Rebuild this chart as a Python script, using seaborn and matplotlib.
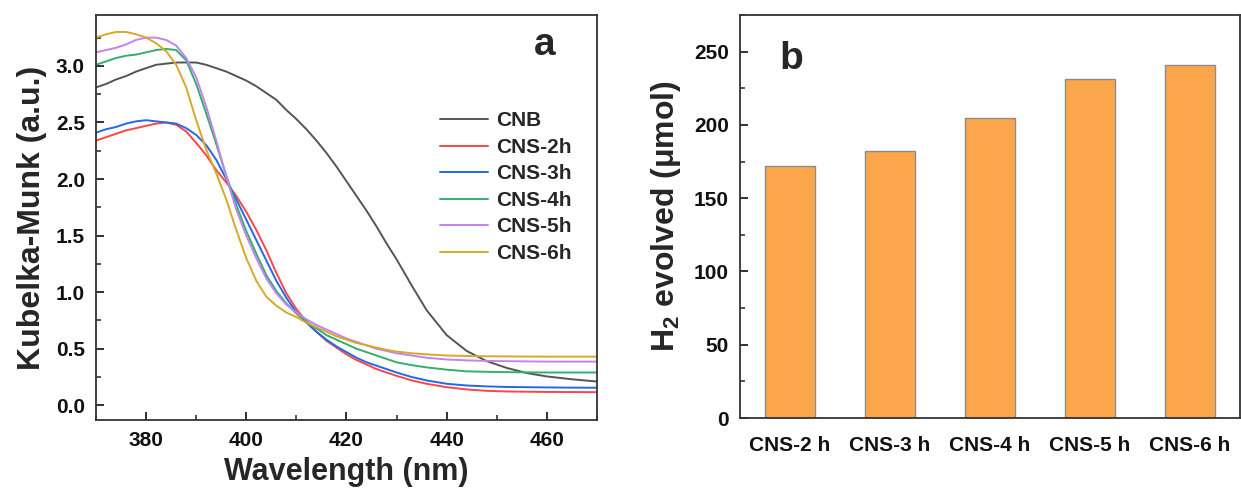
import numpy as np
import pandas as pd
import matplotlib
matplotlib.use("Agg")
import matplotlib.pyplot as plt
import seaborn as sns
from matplotlib.ticker import MultipleLocator, FormatStrFormatter

# ---------------- data: panel a (Kubelka-Munk spectra) ----------------
wavelength = [370, 372, 374, 376, 378, 380, 382, 384, 386, 388, 390, 392, 394, 396, 398,
              400, 402, 404, 406, 408, 410, 412, 414, 416, 418, 420, 422, 424, 426, 428,
              430, 433, 436, 440, 444, 448, 452, 456, 460, 465, 470]
km_cnb = [2.81, 2.84, 2.88, 2.91, 2.95, 2.98, 3.01, 3.02, 3.03, 3.03, 3.03, 3.01, 2.98, 2.95, 2.91,
          2.87, 2.82, 2.76, 2.70, 2.61, 2.53, 2.44, 2.34, 2.23, 2.11, 1.98, 1.85, 1.72, 1.58, 1.43,
          1.29, 1.06, 0.84, 0.62, 0.48, 0.39, 0.33, 0.285, 0.255, 0.23, 0.21]
km_cns2 = [2.34, 2.37, 2.40, 2.43, 2.45, 2.47, 2.49, 2.50, 2.48, 2.42, 2.32, 2.21, 2.08, 1.97, 1.85,
           1.71, 1.55, 1.37, 1.17, 0.99, 0.85, 0.74, 0.65, 0.57, 0.51, 0.45, 0.40, 0.36, 0.32, 0.29,
           0.26, 0.22, 0.19, 0.16, 0.14, 0.128, 0.122, 0.12, 0.118, 0.117, 0.116]
km_cns3 = [2.41, 2.44, 2.46, 2.49, 2.51, 2.52, 2.51, 2.50, 2.49, 2.45, 2.39, 2.30, 2.17, 2.00, 1.82,
           1.64, 1.46, 1.28, 1.10, 0.95, 0.82, 0.73, 0.65, 0.58, 0.52, 0.47, 0.42, 0.38, 0.35, 0.32,
           0.29, 0.25, 0.22, 0.19, 0.175, 0.167, 0.162, 0.16, 0.158, 0.156, 0.155]
km_cns4 = [3.01, 3.04, 3.07, 3.09, 3.10, 3.12, 3.14, 3.15, 3.14, 3.05, 2.84, 2.58, 2.31, 2.03, 1.77,
           1.54, 1.34, 1.15, 1.01, 0.90, 0.81, 0.74, 0.68, 0.62, 0.58, 0.54, 0.50, 0.47, 0.44, 0.41,
           0.38, 0.355, 0.335, 0.315, 0.30, 0.296, 0.293, 0.291, 0.29, 0.29, 0.29]
km_cns5 = [3.12, 3.14, 3.16, 3.19, 3.23, 3.25, 3.25, 3.23, 3.18, 3.07, 2.90, 2.64, 2.34, 2.02, 1.73,
           1.50, 1.30, 1.12, 0.99, 0.89, 0.82, 0.76, 0.71, 0.67, 0.63, 0.59, 0.56, 0.53, 0.50, 0.48,
           0.46, 0.44, 0.42, 0.405, 0.397, 0.392, 0.39, 0.388, 0.386, 0.386, 0.386]
km_cns6 = [3.25, 3.28, 3.30, 3.30, 3.28, 3.25, 3.20, 3.13, 3.01, 2.81, 2.52, 2.26, 2.05, 1.82, 1.55,
           1.30, 1.10, 0.96, 0.88, 0.82, 0.78, 0.73, 0.69, 0.65, 0.61, 0.58, 0.55, 0.53, 0.51, 0.49,
           0.475, 0.46, 0.45, 0.44, 0.436, 0.433, 0.432, 0.431, 0.43, 0.43, 0.43]
sample_names = ["CNB", "CNS-2h", "CNS-3h", "CNS-4h", "CNS-5h", "CNS-6h"]
line_colors = ["#555555", "#FF4545", "#2468E8", "#34AE6C", "#C283F0", "#D8A828"]

# ---------------- data: panel b (H2 evolution) ----------------
bar_labels = ["CNS-2 h", "CNS-3 h", "CNS-4 h", "CNS-5 h", "CNS-6 h"]
h2_evolved = [172, 182, 205, 231, 241]

# ---------------- style ----------------
sns.set_theme(style="ticks")
plt.rcParams["font.family"] = ["Liberation Sans", "DejaVu Sans"]
plt.rcParams["font.weight"] = "bold"
plt.rcParams["axes.labelweight"] = "bold"
plt.rcParams["mathtext.fontset"] = "custom"
plt.rcParams["mathtext.rm"] = "Liberation Sans:bold"
plt.rcParams["mathtext.it"] = "Liberation Sans:bold"
plt.rcParams["mathtext.bf"] = "Liberation Sans:bold"
plt.rcParams["axes.edgecolor"] = "#333333"
plt.rcParams["axes.linewidth"] = 1.3

series = [km_cnb, km_cns2, km_cns3, km_cns4, km_cns5, km_cns6]
df = pd.concat([pd.DataFrame({"Wavelength": wavelength, "KM": vals, "Sample": name})
                for name, vals in zip(sample_names, series)], ignore_index=True)
bar_df = pd.DataFrame({"Sample": bar_labels, "H2": h2_evolved})

fig = plt.figure(figsize=(12.41, 4.93), dpi=100)
ax1 = fig.add_axes([96 / 1241, 1 - 420 / 493, 501 / 1241, 405 / 493])
ax2 = fig.add_axes([740 / 1241, 1 - 418 / 493, 500 / 1241, 403 / 493])

# ---- panel a ----
sns.lineplot(data=df, x="Wavelength", y="KM", hue="Sample", hue_order=sample_names,
             palette=dict(zip(sample_names, line_colors)), estimator=None, sort=False,
             linewidth=1.4, ax=ax1)
ax1.set_xlim(370, 470)
ax1.set_ylim(-0.13, 3.45)
ax1.xaxis.set_major_locator(MultipleLocator(20))
ax1.xaxis.set_minor_locator(MultipleLocator(10))
ax1.yaxis.set_major_locator(MultipleLocator(0.5))
ax1.yaxis.set_minor_locator(MultipleLocator(0.25))
ax1.yaxis.set_major_formatter(FormatStrFormatter("%.1f"))
ax1.tick_params(which="major", direction="in", length=6, width=1.3, labelsize=15, pad=8,
                color="#222222", labelcolor="#111111")
ax1.tick_params(which="minor", direction="in", length=3.5, width=1.1, color="#222222")
ax1.set_xlabel("Wavelength (nm)", fontsize=22, fontweight="bold", labelpad=5)
ax1.set_ylabel("Kubelka-Munk (a.u.)", fontsize=23, fontweight="bold", labelpad=6)
handles, labels = ax1.get_legend_handles_labels()
ax1.legend(handles, labels, loc="upper left", bbox_to_anchor=(0.686, 0.762), frameon=False,
           fontsize=15, handlelength=2.3, handletextpad=0.4, labelspacing=0.36,
           borderpad=0, borderaxespad=0)
ax1.text(0.895, 0.925, "a", transform=ax1.transAxes, fontsize=28, fontweight="bold",
         ha="center", va="center")

# ---- panel b ----
sns.barplot(data=bar_df, x="Sample", y="H2", color="#FCA64C", saturation=1,
            edgecolor="#8C8C8C", linewidth=1.0, width=0.5, ax=ax2)
ax2.set_xlim(-0.5, 4.5)
ax2.set_ylim(0, 275)
ax2.yaxis.set_major_locator(MultipleLocator(50))
ax2.yaxis.set_minor_locator(MultipleLocator(25))
ax2.tick_params(axis="y", which="major", direction="in", length=6, width=1.3, labelsize=15, pad=8,
                color="#222222", labelcolor="#111111")
ax2.tick_params(axis="y", which="minor", direction="in", length=3.5, width=1.1, color="#222222")
ax2.tick_params(axis="x", length=0, labelsize=15, pad=13, labelcolor="#111111")
ax2.set_xlabel("")
ax2.set_ylabel("H$_{2}$ evolved (μmol)", fontsize=23, fontweight="bold", labelpad=8)
ax2.text(0.102, 0.89, "b", transform=ax2.transAxes, fontsize=28, fontweight="bold",
         ha="center", va="center")

for ax in (ax1, ax2):
    for s in ax.spines.values():
        s.set_visible(True)
        s.set_linewidth(1.3)
        s.set_color("#333333")

fig.savefig("out.png", dpi=100)
